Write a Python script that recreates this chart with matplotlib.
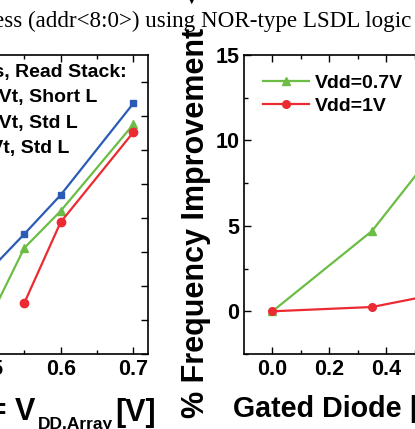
import numpy as np
import matplotlib
matplotlib.use('Agg')
import matplotlib.pyplot as plt

W, H = 415, 429

# left panel: read stack variants vs array supply
vdd_array = [0.50, 0.55, 0.60, 0.70]
blue_vals = [2.41, 3.53, 4.68, 7.38]
green_vals = [0.94, 3.12, 4.21, 6.76]
red_x = [0.55, 0.60, 0.70]
red_vals = [1.50, 3.88, 6.53]
left_legend = ['Access Devices, Read Stack:', 'High Vt, Short L', 'High Vt, Std L', 'Low Vt, Std L']

# right panel: frequency improvement vs gated diode
gd_x = [0.0, 0.35, 0.70]
imp_07 = [0.0, 4.7, 12.1]
imp_1 = [0.0, 0.25, 1.4]

BLUE = '#2b5cb5'
GREEN = '#6cbd45'
RED = '#ec2a32'

plt.rcParams['font.family'] = ['Liberation Sans', 'DejaVu Sans']
plt.rcParams['font.weight'] = 'bold'

fig = plt.figure(figsize=(W / 100, H / 100), dpi=100)

def px(x0, y0, x1, y1):
    # pixel box -> figure fraction rect
    return [x0 / W, 1 - y1 / H, (x1 - x0) / W, (y1 - y0) / H]

def style(ax):
    ax.tick_params(which='both', direction='in', top=True, right=True, width=1.0, labelsize=15.5)
    ax.tick_params(which='major', length=5)
    ax.tick_params(which='minor', length=3)
    for s in ax.spines.values():
        s.set_linewidth(1.2)

# left axes
ax1 = fig.add_axes(px(-48.5, 55, 148, 354))
ax1.plot(vdd_array, blue_vals, '-s', color=BLUE, lw=1.6, ms=5)
ax1.plot(vdd_array, green_vals, '-^', color=GREEN, lw=1.6, ms=6)
ax1.plot(red_x, red_vals, '-o', color=RED, lw=1.6, ms=6)
ax1.set_xlim(0.45, 0.72)
ax1.set_ylim(0, 8.8)
ax1.set_xticks([0.5, 0.6, 0.7])
ax1.set_xticks([0.55, 0.65], minor=True)
ax1.set_yticks(np.arange(0, 9, 1))
ax1.set_yticklabels([])
style(ax1)

# right axes
ax2 = fig.add_axes(px(244, 55, 500, 354))
ax2.plot(gd_x, imp_07, '-^', color=GREEN, lw=1.6, ms=6, label='Vdd=0.7V')
ax2.plot(gd_x, imp_1, '-o', color=RED, lw=1.6, ms=5.5, label='Vdd=1V')
ax2.set_xlim(-0.1, 0.8)
ax2.set_ylim(-2, 15)
ax2.set_xticks([0.0, 0.2, 0.4, 0.6])
ax2.set_xticks([0.1, 0.3, 0.5, 0.7], minor=True)
ax2.set_xticklabels(['0.0', '0.2', '0.4', '0.6'])
ax2.set_yticks([0, 5, 10, 15])
ax2.set_yticks([-2.5, 2.5, 7.5, 12.5], minor=True)
style(ax2)
ax2.set_ylabel('% Frequency Improvement', fontsize=22, fontweight='bold')
ax2.yaxis.set_label_coords(-0.13, 0.44)
ax2.legend(loc='upper left', frameon=False, fontsize=14, handlelength=2.4,
           handletextpad=0.3, labelspacing=0.25, borderaxespad=0.3,
           bbox_to_anchor=(0.02, 0.98))

# left panel legend text (clipped at figure edge)
for txt, xr, yc in zip(left_legend, [127, 97, 78, 69], [73, 98, 123, 148]):
    fig.text(xr / W, 1 - yc / H, txt, ha='right', va='center', fontsize=14,
             fontweight='bold')

# x labels
fig.text(35 / W, 1 - 420 / H, 'Array Voltage = V', ha='right', va='baseline',
         fontsize=22, fontweight='bold')
fig.text(38 / W, 1 - 429 / H, 'DD.Array', ha='left', va='baseline',
         fontsize=12.5, fontweight='bold')
fig.text(156 / W, 1 - 421 / H, '[V]', ha='right', va='baseline',
         fontsize=22, fontweight='bold')
fig.text(233 / W, 1 - 417 / H, 'Gated Diode |Vgs|', ha='left', va='baseline',
         fontsize=20.6, fontweight='bold')

# clipped figure caption
fig.text(411 / W, 1 - 27 / H, 'Memory Access (addr<8:0>) using NOR-type LSDL logic',
         ha='right', va='baseline', fontsize=16.6, family='Liberation Serif',
         fontweight='normal')
fig.text(192 / W, 1 - 0 / H, '\u25bc', ha='center', va='center', fontsize=7,
         family='DejaVu Sans')

fig.savefig('out.png', dpi=100)
